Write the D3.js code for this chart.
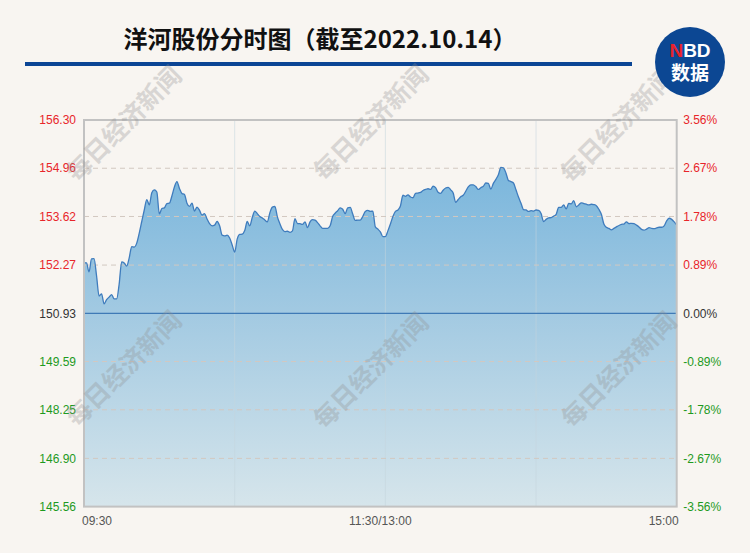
<!DOCTYPE html>
<html><head><meta charset="utf-8">
<script src="https://cdn.jsdelivr.net/npm/d3@7/dist/d3.min.js"></script>
<style>html,body{margin:0;padding:0;background:#f8f5f1;}svg{display:block;}</style>
</head><body>
<svg id="chart" width="750" height="553"></svg>
<script>
const titleText = "洋河股份分时图（截至2022.10.14）";
const prevClose = 150.93;
const leftTicks = ["156.30","154.96","153.62","152.27","150.93","149.59","148.25","146.90","145.56"];
const rightTicks = ["3.56%","2.67%","1.78%","0.89%","0.00%","-0.89%","-1.78%","-2.67%","-3.56%"];
const timeLabels = ["09:30","11:30/13:00","15:00"];
const hourMarks = [60,120,180];
const watermarkText = "每日经济新闻";
// one price per minute (index 0 = 09:30)
const prices = [
152.34,152.33,152.08,152.44,152.45,151.97,151.41,151.47,151.19,151.31,
151.38,151.45,151.33,151.33,151.74,152.36,152.33,152.24,152.47,152.78,
152.77,152.88,153.16,153.48,153.80,154.09,153.94,154.28,154.36,154.30,
153.69,153.84,153.86,153.98,153.99,154.19,154.44,154.59,154.40,154.26,
154.23,153.99,153.90,153.99,153.77,153.88,153.79,153.66,153.70,153.55,
153.42,153.36,153.38,153.48,153.36,153.10,153.08,153.10,153.02,152.83,
152.63,152.99,153.12,153.13,153.23,153.48,153.36,153.59,153.77,153.70,
153.62,153.58,153.52,153.47,153.72,153.88,153.90,153.61,153.42,153.26,
153.20,153.21,153.18,153.22,153.56,153.42,153.42,153.40,153.47,153.31,
153.47,153.53,153.52,153.45,153.36,153.29,153.29,153.29,153.36,153.62,
153.71,153.78,153.86,153.82,153.70,153.86,153.87,153.69,153.51,153.52,
153.52,153.62,153.76,153.79,153.76,153.77,153.33,153.27,153.19,153.06,
153.06,153.22,153.41,153.62,153.76,153.80,153.91,154.21,154.18,154.22,
154.16,154.14,154.26,154.27,154.29,154.34,154.37,154.39,154.37,154.46,
154.42,154.29,154.26,154.35,154.41,154.43,154.36,154.27,154.01,154.09,
154.17,154.21,154.32,154.44,154.50,154.50,154.45,154.37,154.42,154.46,
154.55,154.54,154.38,154.54,154.65,154.78,154.98,154.97,154.83,154.62,
154.59,154.55,154.36,154.16,153.99,153.81,153.80,153.76,153.78,153.77,
153.80,153.79,153.70,153.48,153.54,153.58,153.59,153.63,153.68,153.87,
153.87,153.94,153.83,153.98,153.97,154.06,153.89,153.94,154.00,153.98,
153.96,153.94,153.96,153.95,153.92,153.82,153.68,153.41,153.32,153.29,
153.25,153.29,153.33,153.37,153.40,153.41,153.47,153.42,153.43,153.42,
153.38,153.33,153.26,153.24,153.27,153.31,153.29,153.28,153.30,153.32,
153.32,153.36,153.50,153.57,153.54,153.47,153.38
];

const svg = d3.select("#chart");
const W = 750, H = 553;
const plot = {left: 84, right: 676.7, top: 120, bottom: 506.6};

svg.append("rect").attr("width", W).attr("height", H).attr("fill", "#f8f5f1");

const x = d3.scaleLinear().domain([0, prices.length - 1]).range([plot.left, plot.right]);
const y = d3.scaleLinear().domain([+leftTicks[leftTicks.length-1], +leftTicks[0]]).range([plot.bottom, plot.top]);

// title
svg.append("text").attr("x", 320).attr("y", 48).attr("text-anchor", "middle")
  .attr("font-family", "'Noto Sans CJK SC', sans-serif").attr("font-weight", "bold")
  .attr("font-size", 24).attr("fill", "#111").text(titleText);
svg.append("rect").attr("x", 25).attr("y", 62).attr("width", 607).attr("height", 4).attr("fill", "#0b4595");

// gradient
const defs = svg.append("defs");
const grad = defs.append("linearGradient").attr("id", "areaGrad")
  .attr("gradientUnits", "userSpaceOnUse").attr("x1", 0).attr("x2", 0)
  .attr("y1", plot.top + 40).attr("y2", plot.bottom);
grad.append("stop").attr("offset", "0%").attr("stop-color", "#78b5dc");
grad.append("stop").attr("offset", "45%").attr("stop-color", "#a3cae2");
grad.append("stop").attr("offset", "100%").attr("stop-color", "#d6e5eb");

// area
const area = d3.area().x((d, i) => x(i)).y0(plot.bottom).y1(d => y(d)).curve(d3.curveMonotoneX);
svg.append("path").datum(prices).attr("d", area).attr("fill", "url(#areaGrad)");

// vertical grid
svg.selectAll(".vgrid").data(hourMarks).enter().append("line")
  .attr("x1", d => x(d)).attr("x2", d => x(d)).attr("y1", plot.top).attr("y2", plot.bottom)
  .attr("stroke", "#c6d6de").attr("stroke-width", 1).attr("opacity", 0.55);

// horizontal dashed grid
svg.selectAll(".hgrid").data(leftTicks.slice(1, -1).filter(t => +t !== prevClose)).enter().append("line")
  .attr("x1", plot.left).attr("x2", plot.right).attr("y1", d => y(+d)).attr("y2", d => y(+d))
  .attr("stroke", "#d2c8c0").attr("stroke-width", 1).attr("stroke-dasharray", "5,4");

// zero line
svg.append("line").attr("x1", plot.left).attr("x2", plot.right)
  .attr("y1", y(prevClose)).attr("y2", y(prevClose)).attr("stroke", "#3f7ab6").attr("stroke-width", 1.2);

// price line
const line = d3.line().x((d, i) => x(i)).y(d => y(d)).curve(d3.curveMonotoneX);
svg.append("path").datum(prices).attr("d", line).attr("fill", "none")
  .attr("stroke", "#3f7cbd").attr("stroke-width", 1.3);

// border
svg.append("rect").attr("x", plot.left).attr("y", plot.top)
  .attr("width", plot.right - plot.left).attr("height", plot.bottom - plot.top)
  .attr("fill", "none").attr("stroke", "#c2c2c2").attr("stroke-width", 2);

// axis labels
const colorFor = v => v > prevClose + 0.001 ? "#e8252a" : (v < prevClose - 0.001 ? "#1e9a1e" : "#333");
svg.selectAll(".ltick").data(leftTicks).enter().append("text")
  .attr("x", plot.left - 8).attr("y", d => y(+d)).attr("dy", "0.35em").attr("text-anchor", "end")
  .attr("font-family", "'Liberation Sans', Arial, sans-serif").attr("font-size", 12)
  .attr("fill", d => colorFor(+d)).text(d => d);
svg.selectAll(".rtick").data(rightTicks).enter().append("text")
  .attr("x", plot.right + 6.5).attr("y", (d, i) => y(+leftTicks[i])).attr("dy", "0.35em").attr("text-anchor", "start")
  .attr("font-family", "'Liberation Sans', Arial, sans-serif").attr("font-size", 12)
  .attr("fill", (d, i) => colorFor(+leftTicks[i])).text(d => d);

const timePos = [x(0), (plot.left + plot.right) / 2, x(prices.length - 1)];
const anchors = ["start", "middle", "end"];
svg.selectAll(".ttick").data(timeLabels).enter().append("text")
  .attr("x", (d, i) => timePos[i] + (i === 0 ? -2 : (i === 2 ? 2 : 0))).attr("y", 525)
  .attr("text-anchor", (d, i) => anchors[i])
  .attr("font-family", "'Liberation Sans', Arial, sans-serif").attr("font-size", 12)
  .attr("fill", "#555").text(d => d);

// watermarks
const wm = [[124,124],[371,123],[618,125],[124,369],[371,371],[619,370]];
svg.selectAll(".wm").data(wm).enter().append("text")
  .attr("transform", d => `translate(${d[0]},${d[1]}) rotate(-45)`)
  .attr("text-anchor", "middle").attr("dy", "0.35em")
  .attr("font-family", "'Noto Sans CJK SC', sans-serif").attr("font-weight", "bold")
  .attr("font-size", 25).attr("fill", "#8f8f8f").attr("opacity", 0.3).text(watermarkText);

// logo (drawn above the watermark)
const logo = svg.append("g");
logo.append("circle").attr("cx", 690).attr("cy", 62).attr("r", 35).attr("fill", "#0c4793");
const nbd = logo.append("text").attr("x", 690).attr("y", 57).attr("text-anchor", "middle")
  .attr("font-family", "'Liberation Sans', Arial, sans-serif").attr("font-weight", "bold").attr("font-size", 19);
nbd.append("tspan").attr("fill", "#e8232b").text("N");
nbd.append("tspan").attr("fill", "#fff").text("BD");
logo.append("text").attr("x", 690).attr("y", 80).attr("text-anchor", "middle")
  .attr("font-family", "'Noto Sans CJK SC', sans-serif").attr("font-weight", "bold")
  .attr("font-size", 19).attr("fill", "#fff").text("数据");
</script>
</body></html>
